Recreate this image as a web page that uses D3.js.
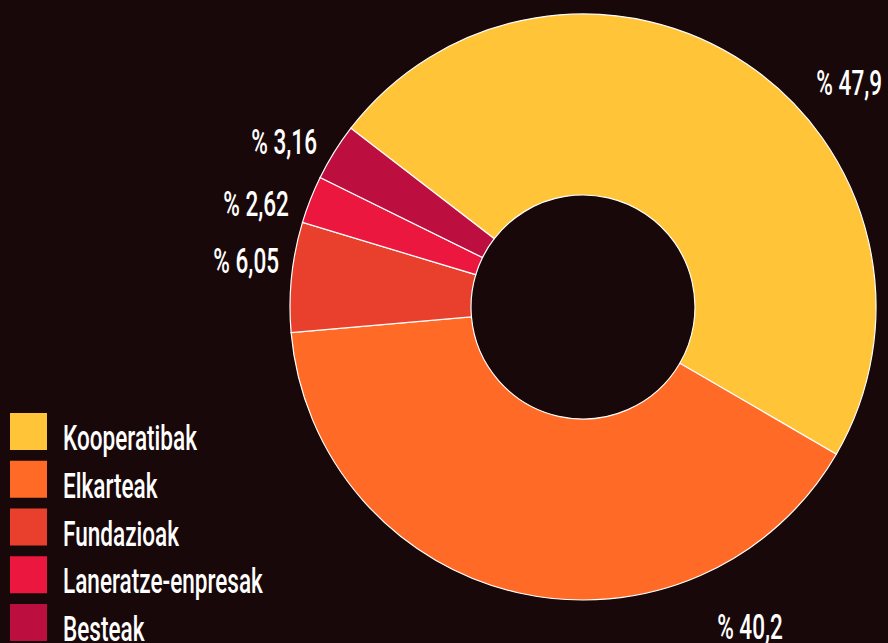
<!DOCTYPE html>
<html>
<head>
<meta charset="utf-8">
<script src="https://cdn.jsdelivr.net/npm/d3@7"></script>
<style>
  html, body { margin: 0; padding: 0; background: #190809; }
  svg { display: block; }
  text { font-family: Roboto, "DejaVu Sans Condensed", sans-serif; font-weight: 500; fill: #fff; }
</style>
</head>
<body>
<div id="container"></div>
<script>
/* CONSTANTS AND GLOBALS */
const width = 888;
const height = 643;

/* DATA */
const categories = ["Kooperatibak", "Elkarteak", "Fundazioak", "Laneratze-enpresak", "Besteak"];
const values = [47.9, 40.2, 6.05, 2.62, 3.16];
const valueLabels = ["% 47,9", "% 40,2", "% 6,05", "% 2,62", "% 3,16"];
const colors = ["#ffc438", "#ff6a26", "#e9402d", "#ec173f", "#bc0e3f"];

const cx = 583, cy = 307;
const outerR = 293, innerR = 112;
const startDeg = -52.4;
// where each value label sits (degrees clockwise from 12 o'clock + distance from centre)
const labelAngles = [53.0, 152.4, 278.7, 289.5, 301.9];
const labelRadius = [374.5, 360.5, 307.5, 312, 313.3];
const labelAnchor = ["end", "middle", "end", "end", "end"];
const fontSize = 36;

const svg = d3.select("#container").append("svg")
  .attr("width", width)
  .attr("height", height);

svg.append("rect").attr("width", width).attr("height", height).attr("fill", "#190809");

// the reference uses a narrow face; squeeze a normal one to the same width
const probe = svg.append("text").attr("font-size", fontSize).text("Kooperatibak");
const squeeze = 134 / probe.node().getComputedTextLength();
probe.remove();

/* PIE */
const pie = d3.pie()
  .sort(null)
  .value(d => d)
  .startAngle(startDeg * Math.PI / 180)
  .endAngle(startDeg * Math.PI / 180 + 2 * Math.PI);

const arcs = pie(values);
const arc = d3.arc().innerRadius(innerR).outerRadius(outerR);

const g = svg.append("g").attr("transform", `translate(${cx},${cy})`);

g.selectAll("path.slice")
  .data(arcs)
  .join("path")
  .attr("class", "slice")
  .attr("d", arc)
  .attr("fill", (d, i) => colors[i])
  .attr("stroke", "#fff")
  .attr("stroke-width", 1.2);

/* VALUE LABELS */
arcs.forEach((d, i) => {
  const a = labelAngles[i] * Math.PI / 180;
  const r = labelRadius[i];
  const x = cx + r * Math.sin(a);
  const y = cy - r * Math.cos(a);
  svg.append("g")
    .attr("transform", `translate(${x},${y}) scale(${squeeze},1)`)
    .append("text")
    .attr("text-anchor", labelAnchor[i])
    .attr("dy", "0.36em")
    .attr("font-size", fontSize)
    .text(valueLabels[i]);
});

/* LEGEND */
const legendY = d3.scaleBand()
  .domain(categories)
  .range([413, 651.75])
  .paddingInner(0);

const legend = svg.selectAll("g.legend")
  .data(categories)
  .join("g")
  .attr("class", "legend")
  .attr("transform", d => `translate(10,${legendY(d)})`);

legend.append("rect")
  .attr("width", 37)
  .attr("height", 37)
  .attr("fill", (d, i) => colors[i]);

legend.append("g")
  .attr("transform", `translate(53,37) scale(${squeeze},1)`)
  .append("text")
  .attr("font-size", fontSize)
  .text(d => d);
</script>
</body>
</html>
